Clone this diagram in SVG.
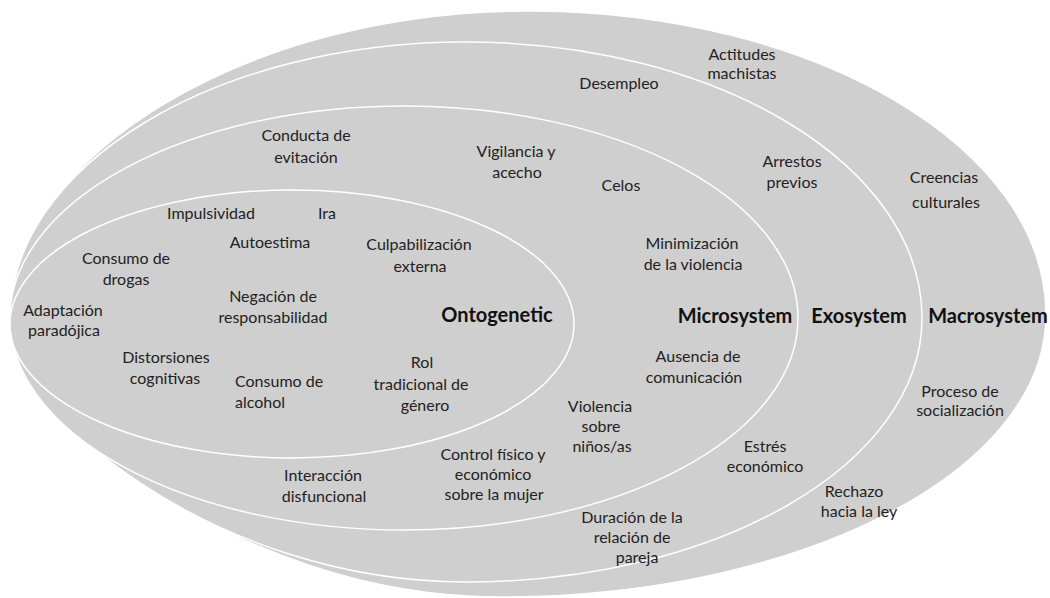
<svg xmlns="http://www.w3.org/2000/svg" width="1050" height="598" viewBox="0 0 1050 598">
<style>
.ring{fill:#d0cfcf;stroke:#ffffff;stroke-width:1.5}
.t{font-family:Lato,"Liberation Sans",sans-serif;font-size:16px;fill:#222;text-anchor:middle}
.l{text-anchor:start}
.h{font-family:Lato,"Liberation Sans",sans-serif;font-size:20px;font-weight:bold;fill:#111;text-anchor:middle}
</style>
<rect width="1050" height="598" fill="#ffffff"/>
<g id="macrosystem">
<path class="ring" d="M10,320 C10,159 243,11 528,11 C814,11 1046,147 1046,315 C1046,471 802,597 500,597 C230,597 10,403 10,320 Z"/>
</g>
<g id="exosystem">
<path class="ring" d="M10,320 C10,166 214,42 466,42 C718,42 922,166 922,318 C922,464 718,582 466,582 C215,582 10,412 10,320 Z"/>
</g>
<g id="microsystem">
<ellipse class="ring" cx="404" cy="318" rx="394" ry="212"/>
</g>
<g id="ontogenetic">
<ellipse class="ring" cx="292" cy="324" rx="282" ry="134"/>
</g>
<g id="connectors"></g>
<g id="labels">
<text class="h" x="497" y="322">Ontogenetic</text>
<text class="h" x="735" y="323">Microsystem</text>
<text class="h" x="859" y="323">Exosystem</text>
<text class="h" x="988" y="323">Macrosystem</text>
</g>
<g id="ontogenetic-factors">
<text class="t" x="211" y="219">Impulsividad</text>
<text class="t" x="327" y="219">Ira</text>
<text class="t" x="270" y="248">Autoestima</text>
<text class="t" x="126" y="264">Consumo de</text>
<text class="t" x="126" y="285">drogas</text>
<text class="t" x="419" y="250">Culpabilización</text>
<text class="t" x="420" y="272">externa</text>
<text class="t" x="273" y="302">Negación de</text>
<text class="t" x="273" y="323">responsabilidad</text>
<text class="t" x="63" y="316">Adaptación</text>
<text class="t" x="64" y="336">paradójica</text>
<text class="t" x="166" y="363">Distorsiones</text>
<text class="t" x="165" y="384">cognitivas</text>
<text class="t l" x="235" y="387">Consumo de</text>
<text class="t l" x="235" y="408">alcohol</text>
<text class="t" x="422" y="368">Rol</text>
<text class="t" x="421" y="390">tradicional de</text>
<text class="t" x="425" y="411">género</text>
</g>
<g id="microsystem-factors">
<text class="t" x="306" y="141">Conducta de</text>
<text class="t" x="306" y="163">evitación</text>
<text class="t" x="516" y="157">Vigilancia y</text>
<text class="t" x="517" y="178">acecho</text>
<text class="t" x="621" y="191">Celos</text>
<text class="t" x="692" y="249">Minimización</text>
<text class="t" x="693" y="270">de la violencia</text>
<text class="t" x="698" y="362">Ausencia de</text>
<text class="t" x="694" y="383">comunicación</text>
<text class="t" x="600" y="412">Violencia</text>
<text class="t" x="601" y="432">sobre</text>
<text class="t" x="602" y="452">niños/as</text>
<text class="t" x="493" y="460">Control físico y</text>
<text class="t" x="493" y="480">económico</text>
<text class="t" x="494" y="500">sobre la mujer</text>
<text class="t" x="323" y="481">Interacción</text>
<text class="t" x="324" y="502">disfuncional</text>
</g>
<g id="exosystem-factors">
<text class="t" x="619" y="89">Desempleo</text>
<text class="t" x="792" y="167">Arrestos</text>
<text class="t" x="792" y="188">previos</text>
<text class="t" x="765" y="452">Estrés</text>
<text class="t" x="765" y="472">económico</text>
<text class="t" x="632" y="523">Duración de la</text>
<text class="t" x="632" y="543">relación de</text>
<text class="t" x="637" y="563">pareja</text>
</g>
<g id="macrosystem-factors">
<text class="t" x="742" y="60">Actitudes</text>
<text class="t" x="742" y="79">machistas</text>
<text class="t" x="944" y="183">Creencias</text>
<text class="t" x="946" y="208">culturales</text>
<text class="t" x="960" y="397">Proceso de</text>
<text class="t" x="960" y="416">socialización</text>
<text class="t" x="854" y="497">Rechazo</text>
<text class="t" x="859" y="517">hacia la ley</text>
</g>
</svg>
